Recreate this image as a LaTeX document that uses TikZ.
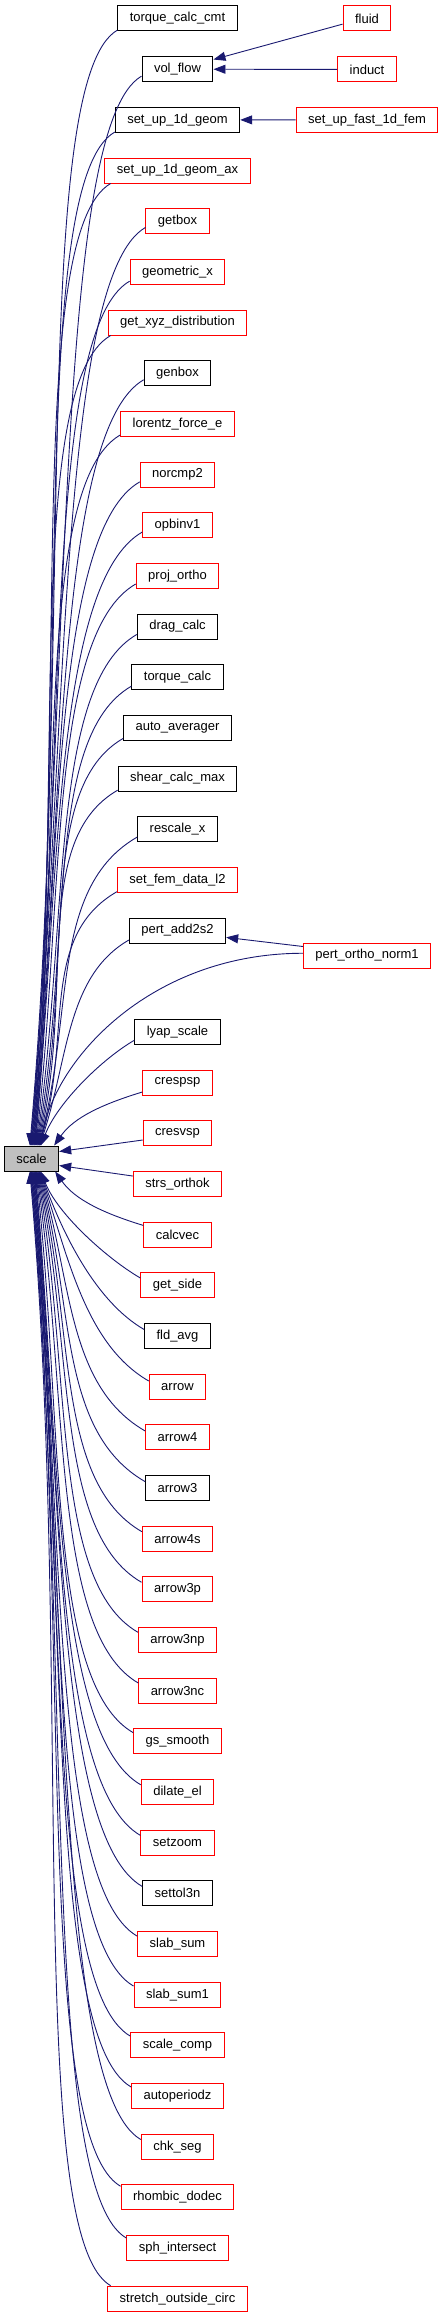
\documentclass[tikz,border=0pt]{standalone}
\usepackage{fontspec}
\setmainfont{Liberation Sans}
\usetikzlibrary{arrows.meta,calc}
\definecolor{edgeblue}{RGB}{25,25,112}
\definecolor{calleegray}{RGB}{191,191,191}
\tikzset{
  fnbox/.style={draw, rectangle, minimum height=25pt, inner xsep=12pt, inner ysep=0pt,
    line width=1pt, font=\fontsize{13}{15}\selectfont},
  callarr/.style={draw=edgeblue, line width=0.9pt, -{Triangle[length=12pt,width=9pt]}},
}

\begin{document}
\begin{tikzpicture}[x=1pt,y=1pt]
\useasboundingbox (0,0) rectangle (443,-2317);
% the called function
\node[fnbox, fill=calleegray] (scale) at (31.5,-1158.5) {scale};
% callers, one per row (slot 19 is left free for the long edge)
\foreach \s/\lbl/\c in {0/torque\_calc\_cmt/black, 1/vol\_flow/black, 2/set\_up\_1d\_geom/black,
  3/set\_up\_1d\_geom\_ax/red, 4/getbox/red, 5/geometric\_x/red, 6/get\_xyz\_distribution/red,
  7/genbox/black, 8/lorentz\_force\_e/red, 9/norcmp2/red, 10/opbinv1/red, 11/proj\_ortho/red,
  12/drag\_calc/black, 13/torque\_calc/black, 14/auto\_averager/black, 15/shear\_calc\_max/black,
  16/rescale\_x/black, 17/set\_fem\_data\_l2/red, 18/pert\_add2s2/black, 20/lyap\_scale/black,
  21/crespsp/red, 22/cresvsp/red, 23/strs\_orthok/red, 24/calcvec/red, 25/get\_side/red,
  26/fld\_avg/black, 27/arrow/red, 28/arrow4/red, 29/arrow3/black, 30/arrow4s/red,
  31/arrow3p/red, 32/arrow3np/red, 33/arrow3nc/red, 34/gs\_smooth/red, 35/dilate\_el/red,
  36/setzoom/red, 37/settol3n/black, 38/slab\_sum/red, 39/slab\_sum1/red, 40/scale\_comp/red,
  41/autoperiodz/red, 42/chk\_seg/red, 43/rhombic\_dodec/red, 44/sph\_intersect/red,
  45/stretch\_outside\_circ/red} {
  \node[fnbox, draw=\c] (n\s) at (177.5,{-18.5-50.67*\s}) {\lbl};
}
% callers of the callers
\node[fnbox, draw=red] (fluid) at (367,-18.5) {fluid};
\node[fnbox, draw=red] (induct) at (367,-69.5) {induct};
\node[fnbox, draw=red] (setupfast) at (367,-120) {set\_up\_fast\_1d\_fem};
\node[fnbox, draw=red] (pertortho) at (367,-955.5) {pert\_ortho\_norm1};

\draw[callarr] (fluid.193) -- (n1.15);
\draw[callarr] (induct) -- (n1);
\draw[callarr] (setupfast) -- (n2);
\draw[callarr] (pertortho.172) -- (n18.352);

% edges into scale from above
\foreach \s in {0,...,20} {
  \ifnum\s=19 \else
  \pgfmathsetmacro\ddy{1117.5-50.67*\s}
  \pgfmathsetmacro\odist{min(100,0.35*\ddy)}
  \pgfmathsetmacro\idist{0.45*\ddy}
  \pgfmathsetmacro\iang{85-20*max(0,1-\ddy/600)}
  \pgfmathsetmacro\xsh{26+0.55*\s}
  \coordinate (t\s) at ([xshift=\xsh pt]scale.north west);
  \draw[callarr] (n\s.191) .. controls +(210:\odist) and ($(t\s)+(\iang:\idist)$) .. (t\s);
  \fi
}
\coordinate (t19) at ([xshift=36.5pt]scale.north west);
\draw[callarr] (pertortho.178) .. controls +(180:150) and ($(t19)+(80:90)$) .. (t19);
\coordinate (t21) at ([xshift=-5pt]scale.north east);
\draw[callarr] (n21.195) .. controls +(197:40) and ($(t21)+(55:35)$) .. (t21);
\draw[callarr] (n22.191) -- ([yshift=7pt]scale.east);
\draw[callarr] (n23.170) -- ([yshift=-7pt]scale.east);
\coordinate (b24) at ([xshift=-4pt]scale.south east);
\draw[callarr] (n24.165) .. controls +(163:40) and ($(b24)+(-55:35)$) .. (b24);

% edges into scale from below
\foreach \s in {25,...,45} {
  \pgfmathsetmacro\ddy{50.67*\s-1162.5}
  \pgfmathsetmacro\odist{min(100,0.35*\ddy)}
  \pgfmathsetmacro\idist{0.45*\ddy}
  \pgfmathsetmacro\iang{85-20*max(0,1-\ddy/600)}
  \pgfmathsetmacro\xsh{26+0.55*(45-\s)}
  \coordinate (b\s) at ([xshift=\xsh pt]scale.south west);
  \draw[callarr] (n\s.169) .. controls +(150:\odist) and ($(b\s)+(-\iang:\idist)$) .. (b\s);
}
\end{tikzpicture}
\end{document}
